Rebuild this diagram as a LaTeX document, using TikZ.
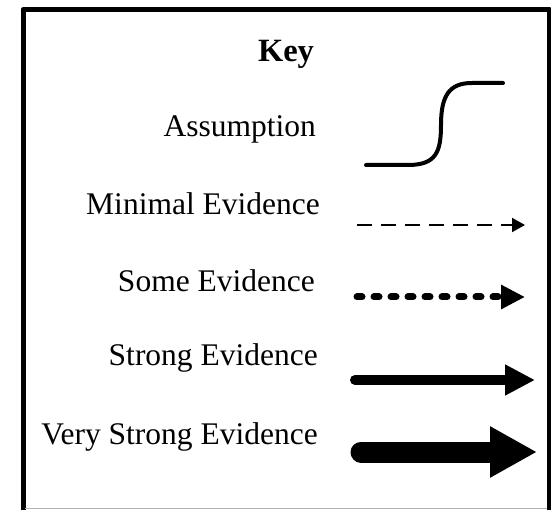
\documentclass[tikz,border=0pt]{standalone}
\usepackage{fontspec}
\setmainfont{Liberation Serif}
\usetikzlibrary{arrows.meta}

\begin{document}
\begin{tikzpicture}[x=1pt, y=-1pt,
    lbl/.style={anchor=base east, inner sep=0pt, font=\fontsize{31.5}{36}\selectfont},
    sample/.style={line width=#1, line cap=round}
    ]
    \useasboundingbox (0,0) rectangle (551,510);

    \draw[line width=5pt, line join=round] (23,525) -- (23,9.5) -- (549,9.5) -- (549,525);
    \draw[gray!60, line width=1pt] (25,508) -- (547,508);

    \node[anchor=base, inner sep=0pt, font=\fontsize{32.5}{36}\selectfont\bfseries] (key) at (286,62) {Key};

    \node[lbl] (assume) at (316,137) {Assumption};
    \node[lbl] (minimal) at (320,215) {Minimal Evidence};
    \node[lbl] (some) at (315,292) {Some Evidence};
    \node[lbl] (strong) at (318,365) {Strong Evidence};
    \node[lbl] (vstrong) at (318,444) {Very Strong Evidence};

    \coordinate (assume-a) at (366,165);
    \coordinate (assume-b) at (503,83);
    \coordinate (minimal-a) at (357,225);
    \coordinate (minimal-b) at (525,225);
    \coordinate (some-a) at (357,297);
    \coordinate (some-b) at (525,297);
    \coordinate (strong-a) at (355,380);
    \coordinate (strong-b) at (535,380);
    \coordinate (vstrong-a) at (361,452);
    \coordinate (vstrong-b) at (537,452);

    \draw[sample=4pt]
    (assume-a) -- (408,165)
    .. controls (436,165) and (441,152) .. (441,125)
    .. controls (441,96) and (449,83) .. (472,83)
    -- (assume-b);

    \draw[sample=2pt, line cap=butt, dash pattern=on 15pt off 9pt,
        -{Triangle[length=13pt,width=14pt]}] (minimal-a) -- (minimal-b);

    \draw[sample=7pt, dash pattern=on 5pt off 12pt,
        -{Triangle[length=24pt,width=23pt]}] (some-a) -- (some-b);

    \draw[sample=10pt,
        -{Triangle[length=30pt,width=29pt]}] (strong-a) -- (strong-b);

    \draw[sample=21pt,
        -{Triangle[length=47pt,width=48pt]}] (vstrong-a) -- (vstrong-b);
\end{tikzpicture}
\end{document}
